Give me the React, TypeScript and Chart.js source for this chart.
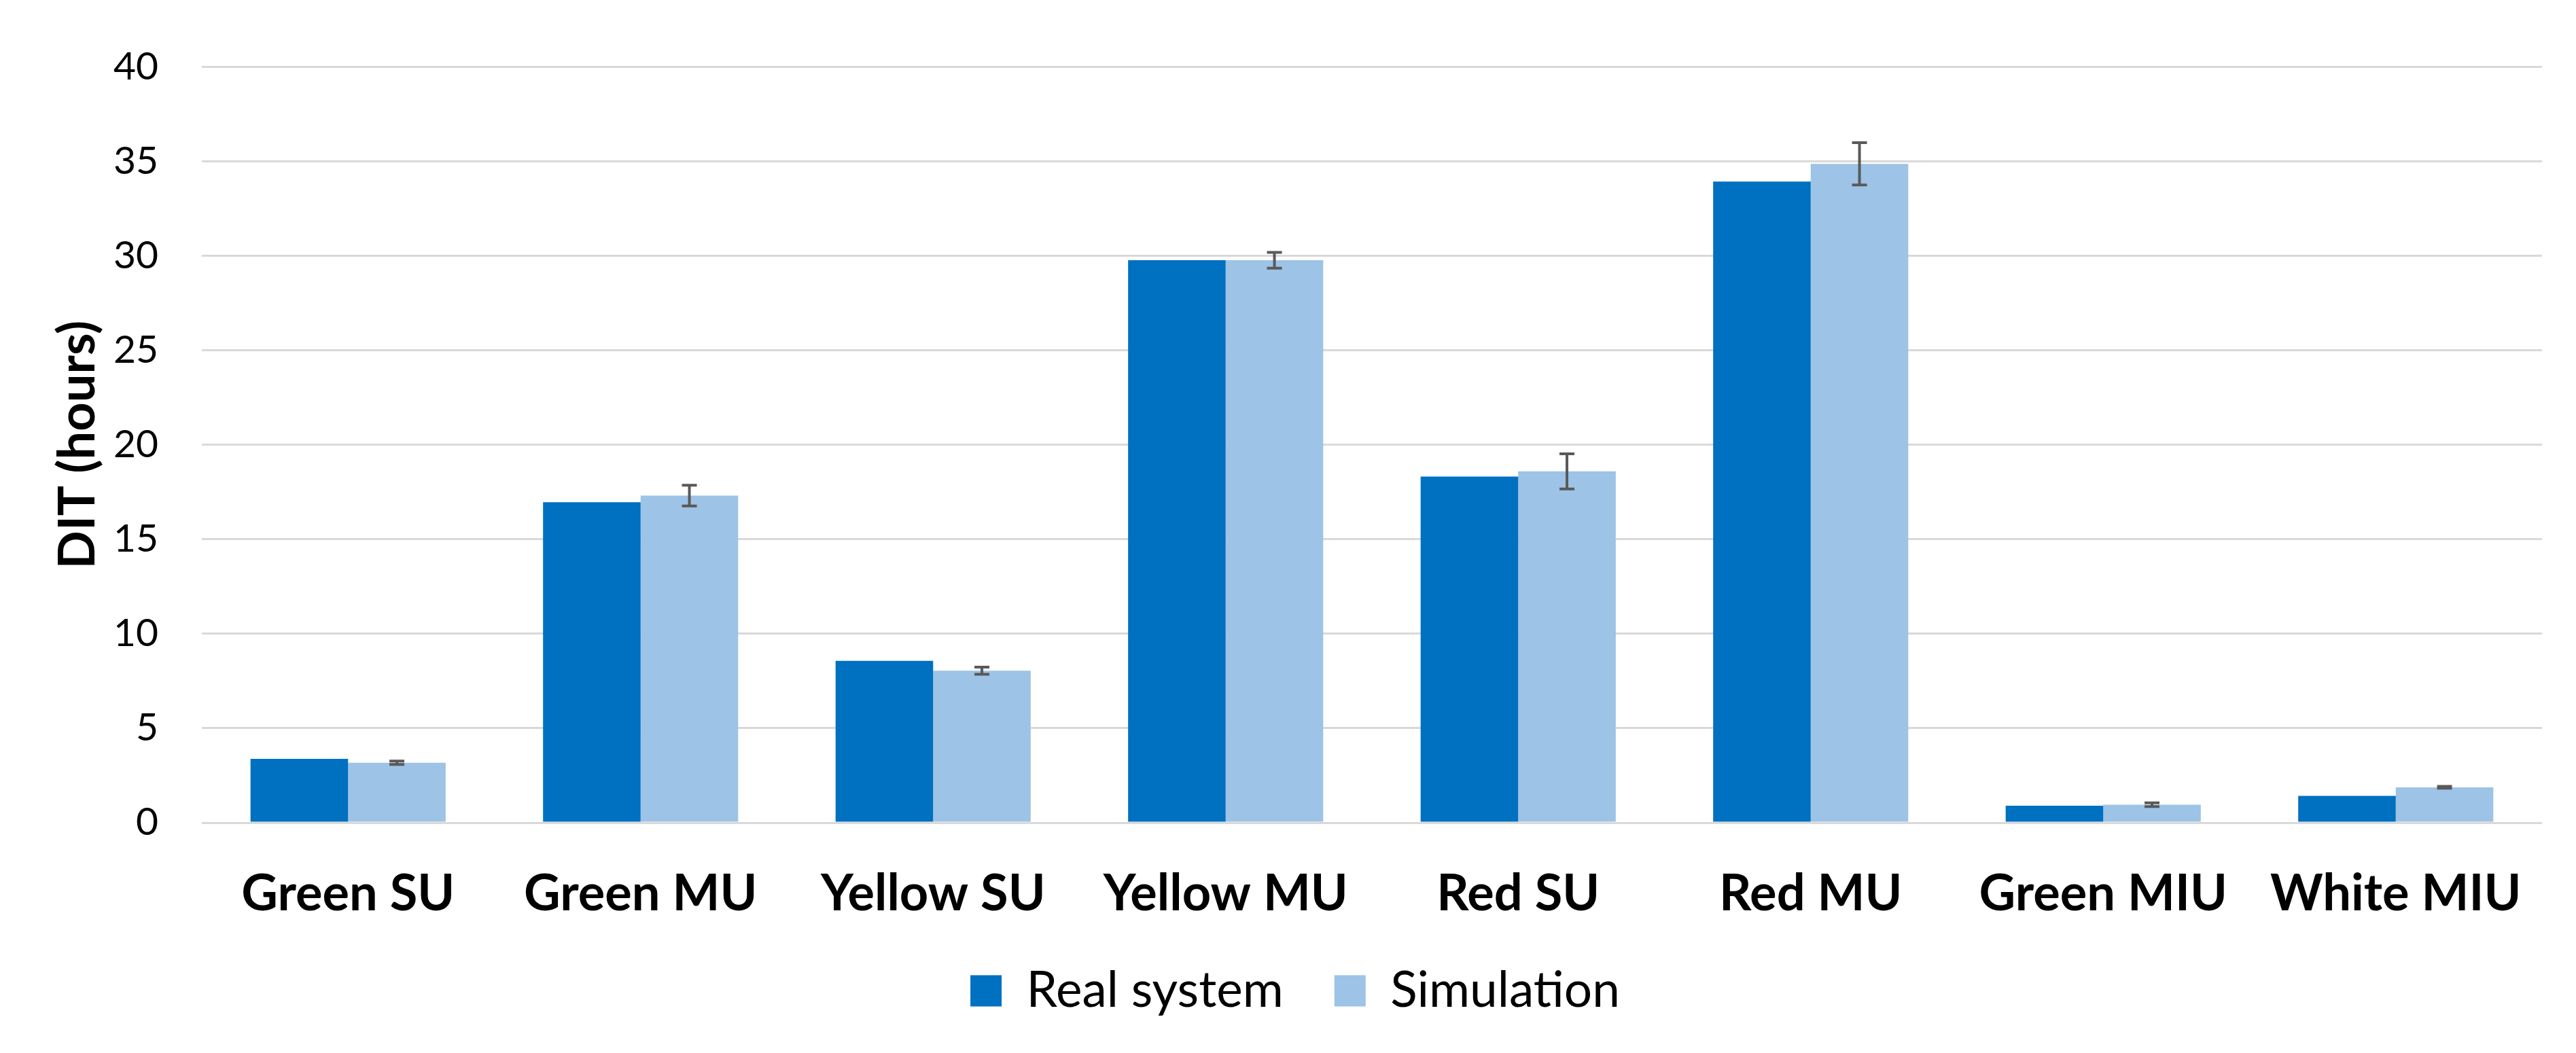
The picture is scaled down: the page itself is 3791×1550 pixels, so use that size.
import React, { useEffect, useRef } from 'react';
import { Chart, ChartOptions, Plugin, registerables } from 'chart.js';

Chart.register(...registerables);

// Values
const categories = ['Green SU', 'Green MU', 'Yellow SU', 'Yellow MU', 'Red SU', 'Red MU', 'Green MIU', 'White MIU'];
const realSystem = [3.38, 16.96, 8.56, 29.76, 18.31, 33.92, 0.9, 1.42];
const simulation = [3.17, 17.31, 8.04, 29.76, 18.59, 34.86, 0.95, 1.87];
const simulationError = [0.09, 0.55, 0.19, 0.42, 0.93, 1.12, 0.1, 0.05];
const yMin = 0;
const yMax = 40;
const yStep = 5;

const seriesNames = ['Real system', 'Simulation'];
const seriesColors = ['#0070C0', '#9DC3E6'];

// Draws the simulation error bars using the chart's own y scale and bar positions
const errorBars: Plugin<'bar'> = {
  id: 'errorBars',
  afterDatasetsDraw(chart) {
    const meta = chart.getDatasetMeta(1);
    const yScale = chart.scales.y;
    const ctx = chart.ctx;
    ctx.save();
    ctx.strokeStyle = '#595959';
    ctx.lineWidth = 4;
    meta.data.forEach((bar, i) => {
      const v = simulation[i];
      const e = simulationError[i];
      const x = bar.x;
      const top = yScale.getPixelForValue(v + e);
      const bottom = yScale.getPixelForValue(v - e);
      const half = 11;
      ctx.beginPath();
      ctx.moveTo(x, top);
      ctx.lineTo(x, bottom);
      ctx.moveTo(x - half, top);
      ctx.lineTo(x + half, top);
      ctx.moveTo(x - half, bottom);
      ctx.lineTo(x + half, bottom);
      ctx.stroke();
    });
    ctx.restore();
  },
};

const App: React.FC = () => {
  const canvasRef = useRef<HTMLCanvasElement>(null);
  const chartRef = useRef<Chart<'bar'> | null>(null);

  useEffect(() => {
    document.body.style.margin = '0';
    if (!canvasRef.current) return;
    const ctx = canvasRef.current.getContext('2d');
    if (!ctx) return;

    const options: ChartOptions<'bar'> = {
      responsive: true,
      maintainAspectRatio: false,
      animation: false,
      devicePixelRatio: 1,
      layout: { padding: { left: 71, right: 50, top: 63, bottom: 45 } },
      font: { family: 'Lato' },
      plugins: {
        tooltip: { enabled: false },
        legend: {
          position: 'bottom',
          labels: {
            boxWidth: 46,
            boxHeight: 46,
            padding: 75,
            color: '#000000',
            font: { family: 'Lato', size: 73 },
          },
        },
      },
      scales: {
        x: {
          grid: { display: false, drawTicks: false },
          border: { display: false },
          ticks: {
            color: '#000000',
            padding: 76,
            maxRotation: 0,
            font: { family: 'Lato', size: 74, weight: 'bold', lineHeight: 0.8 },
          },
          afterFit: (scale) => {
            scale.height = 136;
          },
        },
        y: {
          min: yMin,
          max: yMax,
          grid: { color: '#D9D9D9', lineWidth: 3, drawTicks: false },
          border: { display: false },
          ticks: {
            stepSize: yStep,
            color: '#000000',
            padding: 64,
            font: { family: 'Lato', size: 57 },
          },
          title: {
            display: true,
            text: 'DIT (hours)',
            color: '#000000',
            padding: 0,
            font: { family: 'Lato', size: 74, weight: 'bold' },
          },
          afterFit: (scale) => {
            scale.width = 226;
          },
        },
      },
    };

    chartRef.current = new Chart(ctx, {
      type: 'bar',
      data: {
        labels: categories,
        datasets: [
          {
            label: seriesNames[0],
            data: realSystem,
            backgroundColor: seriesColors[0],
            borderWidth: 0,
            categoryPercentage: 0.667,
            barPercentage: 1,
          },
          {
            label: seriesNames[1],
            data: simulation,
            backgroundColor: seriesColors[1],
            borderWidth: 0,
            categoryPercentage: 0.667,
            barPercentage: 1,
          },
        ],
      },
      options,
      plugins: [errorBars],
    });

    return () => {
      if (chartRef.current) {
        chartRef.current.destroy();
        chartRef.current = null;
      }
    };
  }, []);

  return (
    <div style={{ position: 'relative', width: 3791, height: 1550, background: '#ffffff' }}>
      <canvas ref={canvasRef}></canvas>
    </div>
  );
};

export default App;
